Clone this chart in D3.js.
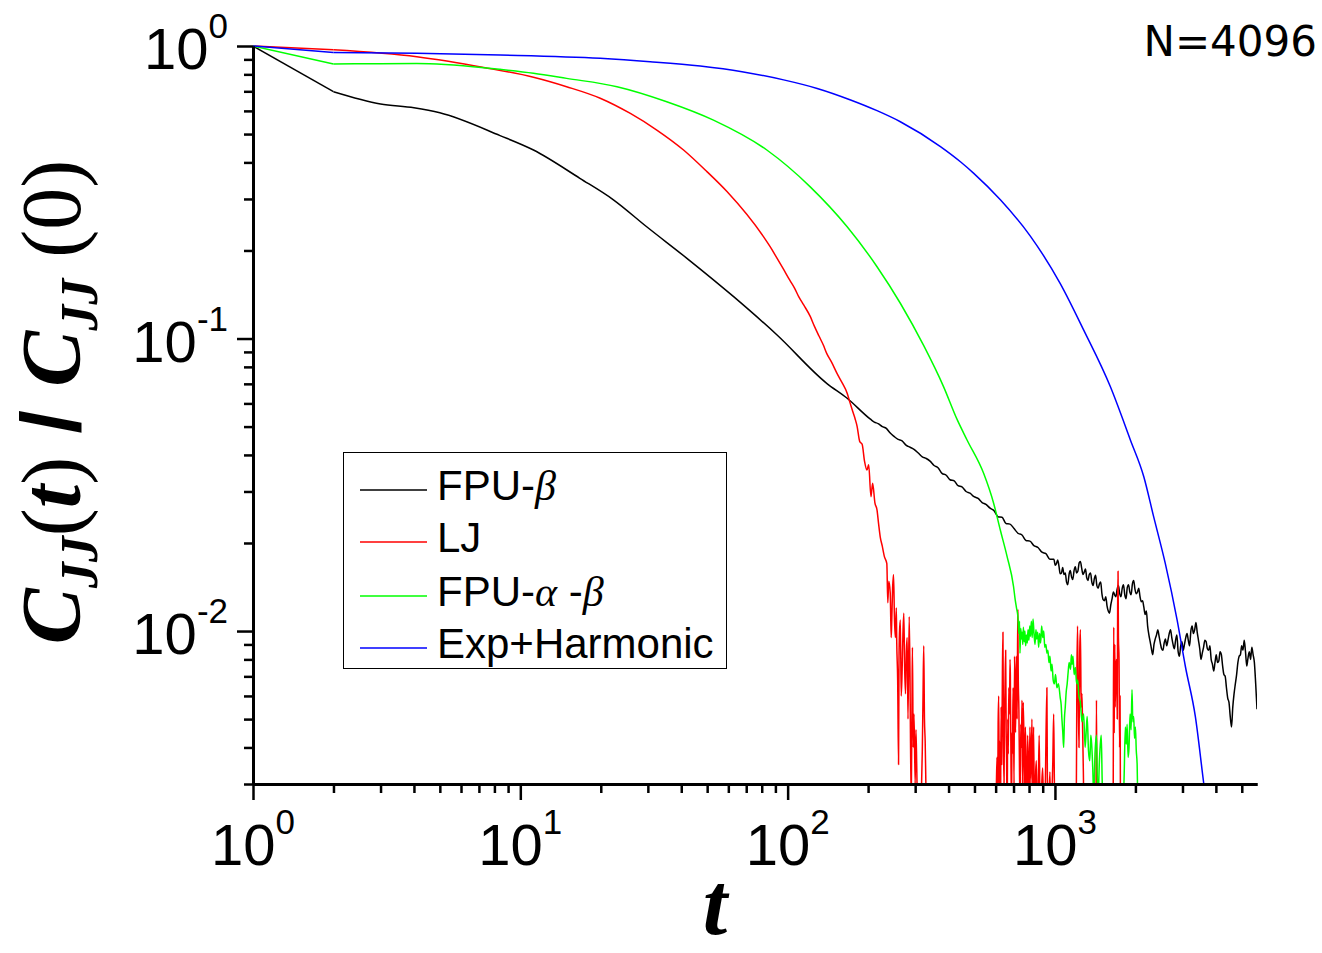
<!DOCTYPE html>
<html><head><meta charset="utf-8">
<script src="https://cdn.jsdelivr.net/npm/d3@7"></script>
<style>body{margin:0;background:#fff}svg{display:block}</style>
</head><body>
<svg id="chart" width="1322" height="953"></svg>
<script>
// ---------- data: [t, C_JJ(t)/C_JJ(0)] ----------
const fpuBeta = [
[1,1.0],[2,0.698],[3,0.634],[4,0.615],[5,0.591],[8.4,0.494],[11.2,0.441],[16.7,0.353],[22.3,0.298],[29.7,0.241],
[42,0.188],[62.8,0.139],[91.3,0.1028],[140,0.0703],[167,0.0625],[204,0.0530],[211,0.0518],[218,0.0512],[226,0.0500],
[234,0.0493],[242,0.0475],[250,0.0463],[259,0.0452],[268,0.0447],[278,0.0431],[287,0.0425],[297,0.0418],[308,0.0406],
[319,0.0394],[330,0.0389],[341,0.0381],[353,0.0368],[366,0.0361],[378,0.0346],[392,0.0341],[405,0.0329],[420,0.0326],
[434,0.0314],[449,0.0311],[465,0.0300],[481,0.0296],[498,0.0288],[516,0.0284],[534,0.0275],[552,0.0271],[572,0.0263],
[592,0.0258],[612,0.0246],[634,0.0245],[656,0.0233],[679,0.0232],[703,0.0224],[727,0.0216],[753,0.0213],[779,0.0204],
[806,0.0203],[834,0.0196],[864,0.0193],[894,0.0186],[925,0.0184],[957,0.0176],[991,0.0176],[1002,0.0168],[1013,0.0170],
[1024,0.0175],[1035,0.0167],[1046,0.0157],[1058,0.0158],[1069,0.0165],[1081,0.0156],[1093,0.0158],[1105,0.0147],[1117,0.0144],
[1129,0.0156],[1141,0.0161],[1154,0.0153],[1166,0.0150],[1179,0.0161],[1192,0.0166],[1205,0.0158],[1218,0.0160],[1232,0.0171],
[1245,0.0173],[1259,0.0164],[1273,0.0156],[1287,0.0159],[1301,0.0163],[1315,0.0152],[1329,0.0149],[1344,0.0156],[1359,0.0158],
[1374,0.0147],[1389,0.0143],[1404,0.0151],[1419,0.0155],[1435,0.0143],[1451,0.0140],[1467,0.0145],[1483,0.0147],[1499,0.0134],
[1515,0.0128],[1532,0.0127],[1549,0.0131],[1566,0.0122],[1583,0.0117],[1600,0.0115],[1618,0.0123],[1636,0.0129],[1654,0.0136],
[1672,0.0133],[1690,0.0131],[1709,0.0139],[1728,0.0143],[1747,0.0134],[1766,0.0131],[1785,0.0140],[1805,0.0144],[1825,0.0133],
[1845,0.0129],[1865,0.0141],[1885,0.0144],[1906,0.0136],[1927,0.0133],[1949,0.0145],[1970,0.0149],[1992,0.0139],[2014,0.0134],
[2036,0.0136],[2058,0.0140],[2081,0.0131],[2104,0.0126],[2127,0.0127],[2150,0.0121],[2174,0.0114],[2198,0.0117],[2222,0.0104],
[2246,0.0097],[2271,0.0092],[2296,0.0087],[2321,0.0083],[2347,0.0090],[2373,0.0094],[2399,0.0097],[2425,0.0101],[2452,0.0096],
[2479,0.0091],[2506,0.0087],[2534,0.0086],[2562,0.0091],[2590,0.0094],[2618,0.0089],[2647,0.0093],[2676,0.0098],[2706,0.0101],
[2736,0.0095],[2766,0.0090],[2796,0.0087],[2827,0.0093],[2858,0.0097],[2890,0.0085],[2922,0.0082],[2954,0.0089],[2986,0.0092],
[3019,0.0086],[3052,0.0090],[3086,0.0095],[3120,0.0098],[3154,0.0093],[3189,0.0089],[3224,0.0100],[3260,0.0104],[3296,0.0098],
[3332,0.0101],[3369,0.0107],[3406,0.0099],[3443,0.0093],[3481,0.0087],[3519,0.0080],[3558,0.0084],[3597,0.0088],[3637,0.0093],
[3677,0.0092],[3717,0.0087],[3758,0.0086],[3799,0.0089],[3841,0.0080],[3883,0.0077],[3926,0.0073],[3969,0.0078],[4013,0.0083],
[4057,0.0078],[4102,0.0079],[4147,0.0085],[4193,0.0083],[4239,0.0076],[4286,0.0071],[4333,0.0070],[4381,0.0064],[4429,0.0059],
[4478,0.0057],[4527,0.0051],[4577,0.0047],[4627,0.0055],[4678,0.0061],[4730,0.0066],[4782,0.0071],[4834,0.0078],[4887,0.0082],
[4941,0.0083],[4995,0.0089],[5050,0.0086],[5106,0.0093],[5162,0.0085],[5219,0.0076],[5276,0.0081],[5334,0.0085],[5393,0.0080],
[5452,0.0088],[5512,0.0083],[5573,0.0078],[5636,0.0066],[5700,0.0054]
];
const lj = [
[1,1.0],[2,0.970],[4.1,0.919],[7.3,0.845],[11.2,0.782],[14.9,0.726],[19.9,0.663],[25.8,0.588],[32.4,0.516],[40.8,0.441],
[49.9,0.372],[59.3,0.318],[81.2,0.223],[86,0.206],[91,0.189],[96,0.174],[102,0.158],[106,0.149],[110,0.139],[115,0.130],
[121.5,0.119],[126,0.110],[131,0.102],[136,0.095],[140,0.089],[146,0.0830],[153,0.076],[160,0.0705],[167,0.065],[171,0.0605],
[175,0.0565],[179,0.053],[182,0.050],[186,0.0445],[190,0.0435],[194,0.038],[198,0.0355],[201,0.037],[205,0.0288],[208,0.032],
[212,0.0275],[216,0.0259],[219,0.0232],[222,0.021],[226,0.0195],[230,0.018],[235,0.017],
[237,0.0125],[239,0.0148],[242,0.0135],[244,0.0095],[245,0.0105],[247,0.0140],[249,0.0156],[251,0.0110],[253,0.0095],[255,0.0120],
[256,0.0091],[258,0.0068],[260,0.0035],[261,0.0080],[262,0.0098],[264,0.0109],[266,0.0060],[268,0.0072],[270,0.0098],[272,0.0115],
[274,0.0075],[276,0.0061],[278,0.0085],[280,0.0095],[282,0.0050],[285,0.0112],[287,0.0070],[288,0.0045],[290,0.0026],[292,0.0060],
[293,0.0088],[295,0.0040],[297,0.0052],[300,0.0030],[302,0.0046],[304,0.0035],[306,0.0025],[309,0.0022],[314,0.0024],[317,0.0030],
[319,0.0039],[321,0.0060],[323,0.0089],[325,0.0050],[327,0.0042],[329,0.0030],[332,0.0020],[400,0.0012],[500,0.0010],
[600,0.0015],[604,0.0030],[607,0.0037],[610,0.0022],[613,0.0048],[616,0.0060],[619,0.0028],[622,0.0042],[625,0.0020],[629,0.0055],
[632,0.0035],[636,0.0072],[639,0.0099],[642,0.0040],[645,0.0030],[647,0.0047],[650,0.0062],[654,0.0086],[657,0.0045],[660,0.0033],
[662,0.0020],[666,0.0050],[669,0.0038],[672,0.0064],[676,0.0052],[679,0.0080],[681,0.0071],[685,0.0034],[688,0.0025],[691,0.0045],
[694,0.0038],[697,0.0064],[700,0.0052],[703,0.0030],[706,0.0082],[709,0.0060],[712,0.0045],[715,0.0065],[718,0.0082],[722,0.0050],
[726,0.0118],[729,0.0070],[733,0.0054],[737,0.0033],[741,0.0024],[745,0.0048],[749,0.0040],[753,0.0058],[757,0.0030],[761,0.0057],
[766,0.0042],[770,0.0026],[775,0.0047],[780,0.0035],[786,0.0020],[790,0.0044],[795,0.0036],[800,0.0025],[806,0.0047],[813,0.0030],
[820,0.0050],[826,0.0028],[832,0.0047],[839,0.0020],[846,0.0032],[852,0.0036],[860,0.0022],[866,0.0028],[873,0.0044],[879,0.0025],
[885,0.0020],[893,0.0030],[900,0.0034],[910,0.0021],[920,0.0029],[933,0.0064],[937,0.0030],[941,0.0020],[950,0.0027],[958,0.0033],
[966,0.0020],[975,0.0028],[982,0.0036],[989,0.0052],[995,0.0031],[1006,0.0020],[1100,0.0012],
[1200,0.0020],[1208,0.0070],[1215,0.0104],[1222,0.0060],[1230,0.0040],[1238,0.0085],[1245,0.0101],[1254,0.0055],[1262,0.0061],
[1270,0.0045],[1276,0.0035],[1290,0.0020],[1422,0.0020],[1430,0.0058],[1438,0.0020],[1650,0.0020],[1655,0.0060],[1660,0.0103],
[1665,0.0045],[1670,0.0070],[1675,0.0090],[1680,0.0055],[1690,0.0075],[1700,0.0080],[1710,0.0050],[1716,0.0120],[1722,0.0160],
[1728,0.0095],[1737,0.0080],[1745,0.0040],[1752,0.0060],[1760,0.0020],[1800,0.0012]
];
const fpuAlphaBeta = [
[1,1.0],[2,0.868],[3,0.870],[4.1,0.871],[7.3,0.843],[8.4,0.832],[11.2,0.807],[14.9,0.775],[23,0.726],[35.3,0.645],[52.8,0.558],
[83.6,0.441],[121.5,0.330],[167,0.241],[216,0.176],[264,0.132],[323,0.0945],[383,0.0685],[430,0.053],[469,0.045],[541,0.0346],
[590,0.0273],[625,0.0221],[662,0.0180],[700,0.0142],[710,0.0128],[718,0.0120],[727,0.0112],[733,0.0098],[737,0.0108],[740,0.0084],
[745,0.0102],[750,0.0094],[754,0.0099],[758,0.0090],[762,0.0103],[767,0.0092],[772,0.0100],[777,0.0089],[783,0.0097],[788,0.0091],
[793,0.0101],[799,0.0093],[805,0.0104],[810,0.0096],[816,0.0108],[822,0.0095],[828,0.0110],[835,0.0098],[842,0.0090],[849,0.0101],
[855,0.0094],[862,0.0099],[869,0.0088],[876,0.0098],[884,0.0091],[892,0.0104],[900,0.0095],[908,0.0100],[916,0.0088],[925,0.0090],
[933,0.0084],[941,0.0086],[950,0.0078],[958,0.0082],[967,0.0073],[975,0.0077],[985,0.0068],[995,0.0066],[1005,0.0071],[1017,0.0064],
[1030,0.0066],[1047,0.0059],[1055,0.0056],[1062,0.0050],[1070,0.0045],[1078,0.0040],[1085,0.0050],[1093,0.0055],[1102,0.0062],
[1111,0.0066],[1120,0.0072],[1130,0.0078],[1144,0.0074],[1152,0.0083],[1159,0.0077],[1168,0.0082],[1180,0.0071],[1193,0.0075],
[1205,0.0066],[1217,0.0068],[1229,0.0060],[1245,0.0057],[1262,0.0049],[1280,0.0052],[1297,0.0040],[1310,0.0046],[1320,0.0051],
[1335,0.0039],[1350,0.0036],[1362,0.0044],[1372,0.0041],[1385,0.0034],[1397,0.0027],[1412,0.0038],[1430,0.0044],[1440,0.0032],
[1450,0.0026],[1465,0.0035],[1478,0.0041],[1490,0.0044],[1502,0.0031],[1514,0.0024],[1600,0.0015],[1700,0.0018],[1800,0.0025],
[1815,0.0032],[1834,0.0047],[1848,0.0041],[1862,0.0048],[1878,0.0037],[1893,0.0040],[1910,0.0052],[1927,0.0046],[1942,0.0063],
[1956,0.0049],[1971,0.0051],[1985,0.0043],[2000,0.0047],[2015,0.0039],[2030,0.0035],[2040,0.0027],[2100,0.0018]
];
const expHarmonic = [
[1,1.0],[2,0.951],[4.1,0.944],[8.4,0.932],[19.9,0.908],[30.6,0.884],[47.1,0.854],[67.5,0.817],[96.6,0.766],[129,0.716],
[172,0.654],[216,0.601],[264,0.551],[373,0.453],[443,0.402],[497,0.367],[625,0.298],[809,0.224],[1047,0.154],[1280,0.107],
[1611,0.0685],[1915,0.045],[2150,0.0337],[2340,0.0246],[2588,0.0170],[2865,0.0109],[3077,0.00755],[3352,0.0051],[3605,0.0030],
[3700,0.0025]
];
const seriesNames = ["FPU-β","LJ","FPU-α -β","Exp+Harmonic"];
const seriesColors = ["#000000","#ff0000","#00ff00","#0000ff"];
const xMajorTicks = [1,10,100,1000];
const xTickExps = ["0","1","2","3"];
const yMajorTicks = [1,0.1,0.01];
const yTickExps = ["0","-1","-2"];
const annotation = "N=4096";

// ---------- scales ----------
const svg = d3.select('#chart');
const x = d3.scaleLog().domain([1,5700]).range([253,1257]);
const y = d3.scaleLog().domain([0.003,1]).range([784,46]);

function minorTicks(scale){
  const [a,b] = scale.domain().slice().sort((p,q)=>p-q);
  const out=[];
  for(let e=Math.floor(Math.log10(a)); e<=Math.ceil(Math.log10(b)); e++){
    for(let m=2;m<=9;m++){const v=m*Math.pow(10,e); if(v>=a*0.999 && v<=b*1.001) out.push(v);}
  }
  return out;
}

// ---------- curves ----------
svg.append('defs').append('clipPath').attr('id','plotclip')
  .append('rect').attr('x',253).attr('y',40).attr('width',1004).attr('height',744);
const lineLin = d3.line().x(d=>x(d[0])).y(d=>y(d[1]));
const lineSmooth = d3.line().x(d=>x(d[0])).y(d=>y(d[1])).curve(d3.curveMonotoneX);
const gCurves = svg.append('g').attr('clip-path','url(#plotclip)');
[fpuBeta, lj, fpuAlphaBeta, expHarmonic].forEach((s,i)=>{
  const g = gCurves.append('g').attr('fill','none').attr('stroke',seriesColors[i])
    .attr('stroke-width',1.5).attr('stroke-linejoin','round');
  g.append('path').attr('d',lineLin(s.slice(0,2)));
  g.append('path').attr('d',lineSmooth(s.slice(1)));
});

// ---------- axes ----------
function styleAxis(g){
  g.select('.domain').attr('stroke','#000').attr('stroke-width',3);
  g.selectAll('.tick line').attr('stroke','#000').attr('stroke-width',2.5);
  g.selectAll('.tick text').remove();
}
const gx = svg.append('g').attr('transform','translate(0,784)');
gx.call(d3.axisBottom(x).tickValues(minorTicks(x)).tickSize(9).tickSizeOuter(0).tickFormat('')).call(styleAxis);
gx.append('g').call(d3.axisBottom(x).tickValues(xMajorTicks).tickSize(16).tickSizeOuter(0).tickFormat('')).call(styleAxis);
const gy = svg.append('g').attr('transform','translate(253,0)');
gy.call(d3.axisLeft(y).tickValues(minorTicks(y)).tickSize(9).tickSizeOuter(0).tickFormat('')).call(styleAxis);
gy.append('g').call(d3.axisLeft(y).tickValues(yMajorTicks).tickSize(16).tickSizeOuter(0).tickFormat('')).call(styleAxis);

// tick labels
const labFont = "'Liberation Sans', Arial, sans-serif";
xMajorTicks.forEach((v,i)=>{
  const t = svg.append('text').attr('x',x(v)).attr('y',865).attr('text-anchor','middle')
    .attr('font-family',labFont).attr('font-size',58).attr('fill','#000');
  t.append('tspan').text('10');
  t.append('tspan').attr('font-size',35).attr('dy',-31).text(xTickExps[i]);
});
yMajorTicks.forEach((v,i)=>{
  const t = svg.append('text').attr('x',228).attr('y',y(v)+23).attr('text-anchor','end')
    .attr('font-family',labFont).attr('font-size',58).attr('fill','#000');
  t.append('tspan').text('10');
  t.append('tspan').attr('font-size',35).attr('dy',-31).text(yTickExps[i]);
});

// axis titles
const serif = "'Liberation Serif','Times New Roman',serif";
svg.append('text').attr('x',715).attr('y',934).attr('text-anchor','middle')
  .attr('font-family',serif).attr('font-style','italic').attr('font-weight','bold')
  .attr('font-size',88).text('t');

const yt = svg.append('text').attr('transform','translate(80,402) rotate(-90)')
  .attr('text-anchor','middle').attr('font-family',serif).attr('font-size',84).attr('fill','#000');
function ts(txt, opt){ const s=yt.append('tspan').text(txt);
  if(opt.bi){s.attr('font-weight','bold').attr('font-style','italic');}
  if(opt.fs) s.attr('font-size',opt.fs);
  if(opt.dy) s.attr('dy',opt.dy);
  if(opt.ff) s.attr('font-family',opt.ff);
  return s;}
ts('C',{bi:true});
ts('JJ',{bi:true,fs:52,dy:17});
ts('(',{dy:-17});
ts('t',{bi:true});
ts(')',{});
ts(' / ',{ff:"'Liberation Sans',Arial,sans-serif"}).attr('font-weight','bold');
ts('C',{bi:true});
ts('JJ',{bi:true,fs:52,dy:17});
ts(' (0)',{dy:-17});

// annotation
svg.append('text').attr('x',1317).attr('y',56).attr('text-anchor','end')
  .attr('font-family',"'DejaVu Sans',Verdana,sans-serif").attr('font-size',42).text(annotation);

// ---------- legend ----------
const lg = svg.append('g');
lg.append('rect').attr('x',343.5).attr('y',452.5).attr('width',383).attr('height',216)
  .attr('fill','#fff').attr('stroke','#000').attr('stroke-width',1);
const legY = [490,542,596,648];
seriesNames.forEach((nm,i)=>{
  lg.append('line').attr('x1',360).attr('x2',427).attr('y1',legY[i]).attr('y2',legY[i])
    .attr('stroke',seriesColors[i]).attr('stroke-width',1.5);
  const t = lg.append('text').attr('x',437).attr('y',legY[i]+10)
    .attr('font-family',labFont).attr('font-size',42).attr('fill','#000');
  const parts = nm.split(/([αβ])/);
  parts.forEach(p=>{ if(!p) return;
    const s=t.append('tspan').text(p);
    if(p==='α'||p==='β') s.attr('font-family',serif).attr('font-style','italic');
  });
});
</script>
</body></html>
